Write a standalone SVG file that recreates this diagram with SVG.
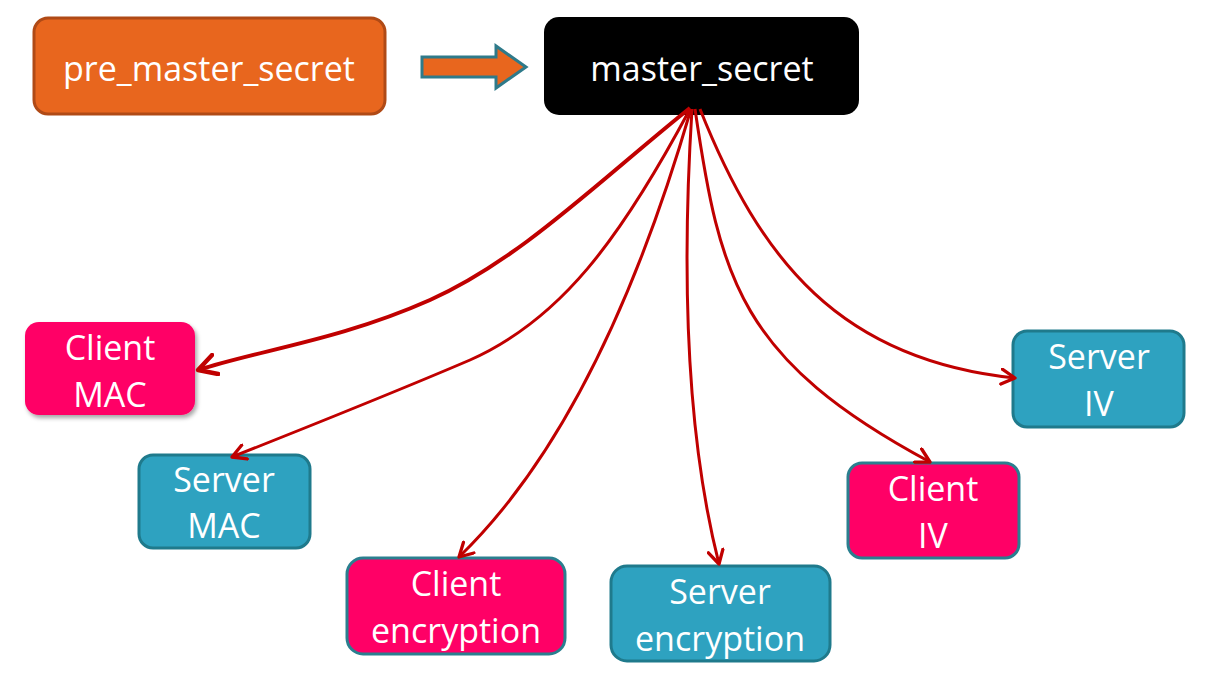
<svg xmlns="http://www.w3.org/2000/svg" width="1207" height="695" viewBox="0 0 1207 695">
<defs>
<marker id="ah" viewBox="0 0 12 12" refX="10" refY="6" markerWidth="6" markerHeight="6" orient="auto" markerUnits="strokeWidth">
<polyline points="1,1 10,6 1,11" fill="none" stroke="#C00000" stroke-width="2.2" stroke-linecap="round" stroke-linejoin="round"/>
</marker>
<filter id="sh" x="-10%" y="-10%" width="130%" height="130%">
<feDropShadow dx="2" dy="3" stdDeviation="2" flood-color="#000" flood-opacity="0.35"/>
</filter>
</defs>
<style>
text{font-family:"Open Sans","Noto Sans",sans-serif;fill:#fff;text-anchor:middle;font-size:34px}
.pink{fill:#FF0066;stroke:#2A7F8F;stroke-width:3}
.teal{fill:#2EA2C0;stroke:#1F7A8C;stroke-width:3}
.con{fill:none;stroke:#C00000;stroke-width:3;marker-end:url(#ah)}
</style>
<rect width="1207" height="695" fill="#fff"/>
<g id="pre_master_secret">
<rect x="34" y="18" width="351" height="96" rx="14" fill="#E8661E" stroke="#B04A16" stroke-width="3"/>
<text x="209" y="81" font-size="37">pre_master_secret</text>
</g>
<g id="block_arrow">
<polygon points="422,57 496,57 496,46 526,67 496,88 496,77 422,77" fill="#E8661E" stroke="#2E7A8A" stroke-width="3"/>
</g>
<g id="master_secret">
<rect x="544" y="17" width="315" height="98" rx="15" fill="#000"/>
<text x="702" y="81" font-size="37">master_secret</text>
</g>
<g id="client_mac">
<rect x="25" y="322" width="170" height="93" rx="14" fill="#FF0066" filter="url(#sh)"/>
<text x="110" y="360">Client</text>
<text x="110" y="407">MAC</text>
</g>
<g id="server_mac">
<rect x="139" y="455" width="171" height="93" rx="14" class="teal"/>
<text x="224" y="492">Server</text>
<text x="224" y="538">MAC</text>
</g>
<g id="client_encryption">
<rect x="347" y="558" width="218" height="96" rx="16" class="pink"/>
<text x="456" y="596">Client</text>
<text x="456" y="643">encryption</text>
</g>
<g id="server_encryption">
<rect x="611" y="566" width="219" height="95" rx="16" class="teal"/>
<text x="720" y="604">Server</text>
<text x="720" y="651">encryption</text>
</g>
<g id="client_iv">
<rect x="848" y="463" width="171" height="95" rx="14" class="pink"/>
<text x="933" y="501">Client</text>
<text x="933" y="548">IV</text>
</g>
<g id="server_iv">
<rect x="1013" y="331" width="171" height="96" rx="14" class="teal"/>
<text x="1099" y="369">Server</text>
<text x="1099" y="416">IV</text>
</g>
<g id="connectors">
<path class="con" style="stroke-width:4" d="M690,108 C600,180 520,260 430,300 C340,340 260,350 198,370"/>
<path class="con" d="M690,109 C620,240 560,320 470,360 C400,390 300,430 232,457"/>
<path class="con" d="M691,109 C650,250 580,440 459,557"/>
<path class="con" d="M692,109 C680,300 690,450 719,564"/>
<path class="con" d="M695,109 C720,280 740,360 930,462"/>
<path class="con" d="M700,109 C760,260 840,360 1015,378"/>
</g>
</svg>
